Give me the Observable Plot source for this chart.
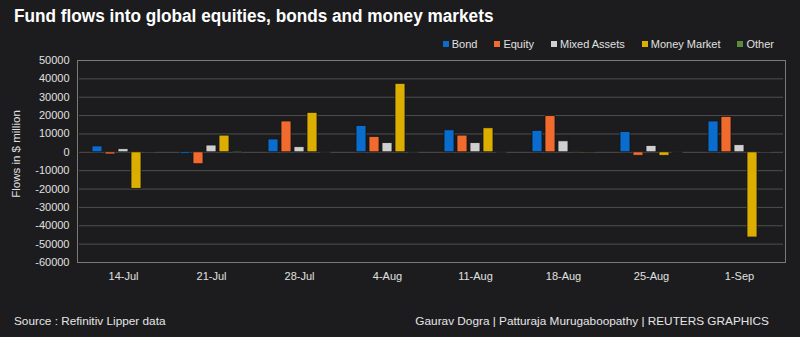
<!DOCTYPE html>
<html>
<head>
<meta charset="utf-8">
<script src="https://cdn.jsdelivr.net/npm/d3@7"></script>
<script src="https://cdn.jsdelivr.net/npm/@observablehq/plot@0.6"></script>
<style>
  html, body { margin: 0; padding: 0; background: #1c1c1e; }
  #wrap { position: relative; width: 800px; height: 337px; overflow: hidden; background: #1c1c1e;
          font-family: "Liberation Sans", sans-serif; color: #e6e6e6; }
  #title { position: absolute; left: 14px; top: 6px; font-size: 18px; font-weight: bold; color: #fff; white-space: nowrap;
           transform: scaleX(0.955); transform-origin: left center; }
  #legend { position: absolute; right: 26px; top: 38px; display: flex; gap: 17px; font-size: 11px; color: #e0e0e0; white-space: nowrap; }
  #legend .item { display: flex; align-items: center; gap: 3px; }
  #legend .sw { width: 6px; height: 6px; display: inline-block; }
  #ylabel { position: absolute; left: 16px; top: 154px; transform: translate(-50%, -50%) rotate(-90deg); font-size: 11.5px; white-space: nowrap; color: #e0e0e0; }
  #frame { position: absolute; left: 77px; top: 60px; width: 707px; height: 201px; border: 1px solid #7a7a7a; pointer-events: none; }
  #source { position: absolute; left: 14px; top: 314px; font-size: 11.8px; color: #e6e6e6; white-space: nowrap; }
  #credit { position: absolute; right: 31px; top: 314px; font-size: 11.8px; color: #e6e6e6; white-space: nowrap; }
  #chart { position: absolute; left: 0; top: 0; }
</style>
</head>
<body>
<div id="wrap">
  <div id="chart"></div>
  <div id="frame"></div>
  <div id="title">Fund flows into global equities, bonds and money markets</div>
  <div id="legend"></div>
  <div id="ylabel">Flows in $ million</div>
  <div id="source">Source : Refinitiv Lipper data</div>
  <div id="credit">Gaurav Dogra | Patturaja Murugaboopathy | REUTERS GRAPHICS</div>
</div>
<script>
const dates = ["14-Jul", "21-Jul", "28-Jul", "4-Aug", "11-Aug", "18-Aug", "25-Aug", "1-Sep"];
const series = ["Bond", "Equity", "Mixed Assets", "Money Market", "Other"];
const colors = ["#0a6ccc", "#f26b2e", "#cfcfcf", "#dcae00", "#5a8a3a"];
const bond   = [3200, -1000, 7000, 14400, 12000, 11700, 11000, 16800];
const equity = [-1200, -6500, 16800, 8400, 9100, 19700, -1900, 19300];
const mixed  = [1700, 3700, 2800, 5000, 5000, 6000, 3500, 3900];
const money  = [-19900, 9100, 21500, 37300, 13100, 500, -1900, -46400];
const other  = [500, 700, -300, -200, -300, 500, -500, 500];
const yTicks = [-60000, -50000, -40000, -30000, -20000, -10000, 0, 10000, 20000, 30000, 40000, 50000];

const valuesBySeries = [bond, equity, mixed, money, other];
const data = [];
dates.forEach((d, i) => series.forEach((s, j) => data.push({date: d, series: s, value: valuesBySeries[j][i]})));

const plot = Plot.plot({
  width: 800,
  height: 337,
  marginLeft: 77,
  marginRight: 15,
  marginTop: 60,
  marginBottom: 75,
  style: {background: "transparent", color: "#e0e0e0", fontFamily: "'Liberation Sans', sans-serif", fontSize: "11px"},
  fx: {domain: dates, padding: 0, label: null, tickSize: 0, tickPadding: 10},
  x: {domain: series, axis: null, paddingInner: 0.2, paddingOuter: 0.89},
  y: {domain: [-60000, 50000], ticks: yTicks, tickSize: 0, tickPadding: 10, label: null, tickFormat: d => String(d)},
  color: {domain: series, range: colors},
  marks: [
    Plot.ruleY(yTicks, {stroke: "#4f4f4f", strokeWidth: 1}),
    Plot.barY(data, {fx: "date", x: "series", y: "value", fill: "series", stroke: "#151515", strokeWidth: 0.8})
  ]
});
document.getElementById("chart").appendChild(plot);

const leg = document.getElementById("legend");
series.forEach((s, j) => {
  const it = document.createElement("div");
  it.className = "item";
  const sw = document.createElement("span");
  sw.className = "sw";
  sw.style.background = colors[j];
  it.appendChild(sw);
  it.appendChild(document.createTextNode(s));
  leg.appendChild(it);
});
</script>
</body>
</html>
